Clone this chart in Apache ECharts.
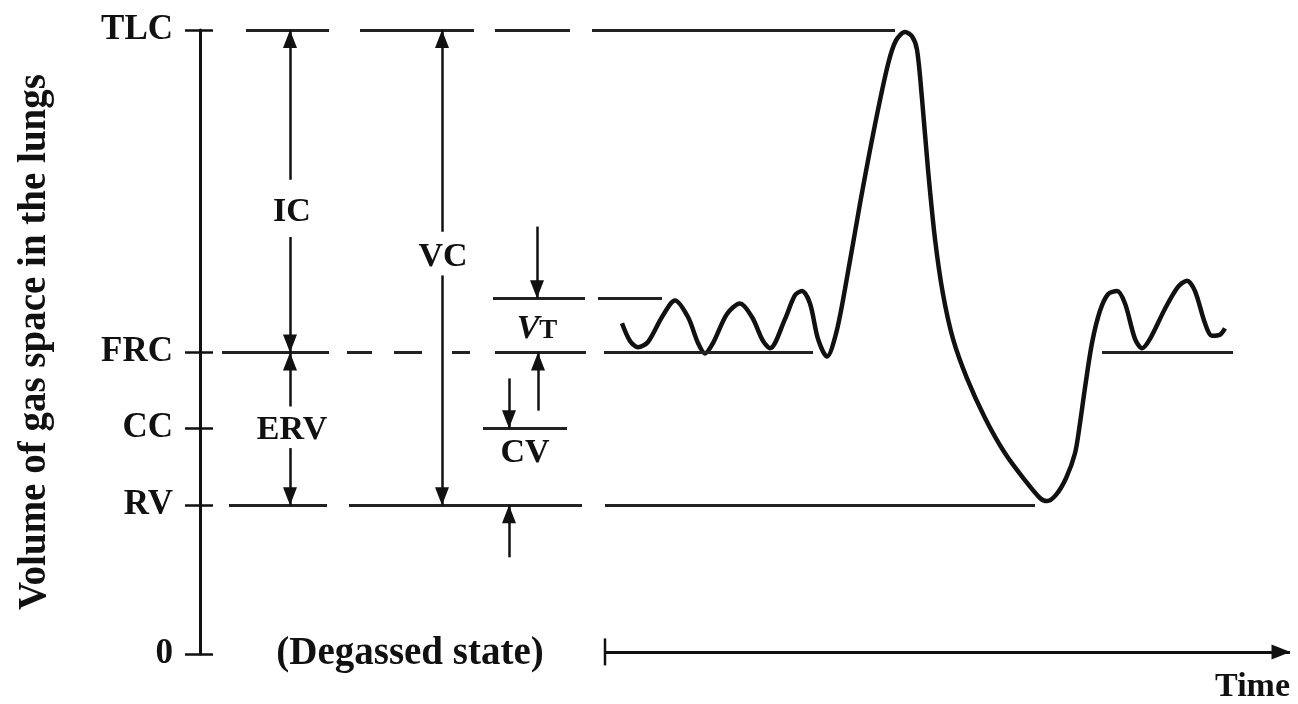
<!DOCTYPE html>
<html><head><meta charset="utf-8">
<script src="https://cdn.jsdelivr.net/npm/echarts@6/dist/echarts.min.js"></script>
<style>html,body{margin:0;padding:0;background:#fff}#c{width:1298px;height:704px}</style>
</head><body><div id="c"></div>
<script>
// ---- data (volume in litres, time in arbitrary units) ----
const levelNames  = ['0', 'RV', 'CC', 'FRC', 'TLC'];
const levelValues = [0, 1.43, 2.17, 2.9, 6.0];
const tidalTop = 3.42;

const traceTime = [42.2,43.0,43.8,44.8,46.2,47.5,48.8,49.8,50.5,51.3,52.7,54.0,55.2,56.3,57.0,58.5,59.5,60.2,61.0,61.8,62.7,63.6,64.5,66.0,67.5,68.8,69.6,70.5,71.2,71.7,72.2,72.8,73.5,74.3,75.3,76.7,78.5,80.5,82.5,84.0,84.7,85.6,86.6,87.5,88.0,88.5,89.2,90.0,90.8,91.7,92.5,93.5,94.2,95.0,96.5,97.8,98.7,99.5,100.5,101.2,102.0,102.5];
const traceVolume = [3.18,3.01,2.95,3.00,3.24,3.40,3.24,2.99,2.89,2.99,3.27,3.37,3.24,3.01,2.94,3.22,3.45,3.49,3.37,3.03,2.86,3.08,3.51,4.33,5.09,5.67,5.90,5.98,5.94,5.81,5.34,4.66,3.99,3.46,3.03,2.65,2.27,1.93,1.67,1.50,1.47,1.53,1.69,1.93,2.22,2.56,2.99,3.30,3.46,3.49,3.37,3.03,2.94,3.03,3.32,3.53,3.59,3.49,3.18,3.06,3.07,3.13];

// horizontal reference segments: [level, timeStart, timeEnd]
const refSegments = [
  [6.0, 4.6, 12.9], [6.0, 16.0, 27.4], [6.0, 29.5, 37.0], [6.0, 39.2, 69.5],
  [2.9, 2.2, 12.9], [2.9, 14.7, 17.2], [2.9, 19.4, 22.2], [2.9, 25.2, 27.0], [2.9, 29.5, 38.6], [2.9, 40.4, 61.3], [2.9, 90.2, 103.3],
  [tidalTop, 29.3, 38.5], [tidalTop, 39.8, 46.2],
  [2.17, 28.3, 36.7],
  [1.43, 2.9, 12.7], [1.43, 14.9, 38.2], [1.43, 40.5, 83.5]
];
// arrows: [time, fromVolume, toVolume] (head at toVolume)
const arrows = [
  [9.0, 4.56, 6.0], [9.0, 4.01, 2.9],     // IC
  [9.0, 2.38, 2.9], [9.0, 1.98, 1.43],    // ERV
  [24.2, 4.06, 6.0], [24.2, 3.64, 1.43],  // VC
  [33.7, 4.11, tidalTop],                  // VT down
  [33.8, 2.34, 2.9],                       // VT up
  [30.9, 2.65, 2.17],                      // CV down
  [30.9, 0.93, 1.43]                       // RV up
];
const labelTexts = ['IC', 'ERV', 'VC', 'VT', 'CV', '(Degassed state)'];
const labelPos = [[9.2, 4.25], [9.2, 2.15], [24.3, 3.82], [33.7, 3.12], [32.5, 1.93], [21.0, 0]];
const timeAxisStart = 40.5, timeAxisEnd = 109, timeAxisLevel = 0.02;

// ---- build ----
const ink = '#111';
const serif = 'Liberation Serif';
const segLines = refSegments.map(s => [
  {coord: [s[1], s[0]], symbol: 'none'},
  {coord: [s[2], s[0]], symbol: 'none', lineStyle: {width: 3, color: '#222'}}
]);
const arrowLines = arrows.map(a => [
  {coord: [a[0], a[1]], symbol: 'none'},
  {coord: [a[0], a[2]], symbol: 'triangle', symbolSize: [14, 18], symbolOffset: [0, 9], lineStyle: {width: 2.5, color: ink}}
]);
const timeLines = [
  [{coord: [timeAxisStart, timeAxisLevel], symbol: 'none'},
   {coord: [timeAxisEnd, timeAxisLevel], symbol: 'triangle', symbolSize: [15, 19], symbolOffset: [0, 9], lineStyle: {width: 3, color: ink}}]
];

const chart = echarts.init(document.getElementById('c'));
chart.setOption({
  animation: false,
  backgroundColor: '#fff',
  grid: {left: 200, right: 8, top: 30, bottom: 47},
  xAxis: {
    type: 'value', min: 0, max: timeAxisEnd,
    axisLine: {show: false}, axisTick: {show: false}, axisLabel: {show: false}, splitLine: {show: false},
    name: 'Time', nameLocation: 'end', nameGap: 0,
    nameTextStyle: {fontFamily: serif, fontWeight: 'bold', fontSize: 34, color: ink, align: 'right', verticalAlign: 'top', padding: [16, 0, 0, 0]}
  },
  yAxis: [{
    type: 'value', min: 0, max: 6,
    axisLine: {show: true, lineStyle: {color: ink, width: 3}},
    axisTick: {show: true, customValues: levelValues, length: 15, lineStyle: {color: ink, width: 2.5}},
    axisLabel: {show: true, customValues: levelValues, margin: 27,
      formatter: v => levelNames[levelValues.indexOf(v)],
      fontFamily: serif, fontWeight: 'bold', fontSize: 35, color: ink},
    splitLine: {show: false},
    name: 'Volume of gas space in the lungs', nameLocation: 'middle', nameGap: 146,
    nameTextStyle: {fontFamily: serif, fontWeight: 'bold', fontSize: 39, color: ink}
  }, {
    type: 'value', min: 0, max: 6, position: 'left',
    axisLine: {show: false},
    axisTick: {show: true, inside: true, customValues: levelValues, length: 13, lineStyle: {color: ink, width: 2.5}},
    axisLabel: {show: false}, splitLine: {show: false}
  }],
  series: [{
    type: 'line',
    data: traceTime.map((t, i) => [t, traceVolume[i]]),
    smooth: 0.3, symbol: 'none',
    lineStyle: {color: ink, width: 4.5},
    markLine: {
      silent: true, animation: false, symbol: ['none', 'none'],
      label: {show: false},
      lineStyle: {type: 'solid', color: ink, width: 2.5},
      emphasis: {disabled: true},
      data: segLines.concat(arrowLines, timeLines)
    }
  }, {
    // start bar of the time arrow
    type: 'scatter', clip: false, silent: true,
    symbol: 'rect', symbolSize: [2.5, 27],
    itemStyle: {color: ink, opacity: 1},
    data: [[timeAxisStart, timeAxisLevel]]
  }, {
    type: 'scatter', clip: false, silent: true, symbolSize: 1,
    itemStyle: {color: 'rgba(0,0,0,0)', opacity: 1},
    data: labelTexts.map((t, i) => ({name: t, value: labelPos[i]})),
    label: {
      show: true, position: 'inside', color: ink, opacity: 1,
      fontFamily: serif, fontWeight: 'bold', fontSize: 34,
      formatter: p => p.name === 'VT' ? '{i|V}{t|T}' : (p.name === '(Degassed state)' ? '{d|' + p.name + '}' : p.name),
      rich: {
        i: {fontFamily: serif, fontStyle: 'italic', fontWeight: 'bold', fontSize: 34, color: ink},
        t: {fontFamily: serif, fontWeight: 'bold', fontSize: 27, color: ink, padding: [4, 0, 0, 0]},
        d: {fontFamily: serif, fontWeight: 'bold', fontSize: 39, color: ink}
      }
    }
  }]
});
</script></body></html>
